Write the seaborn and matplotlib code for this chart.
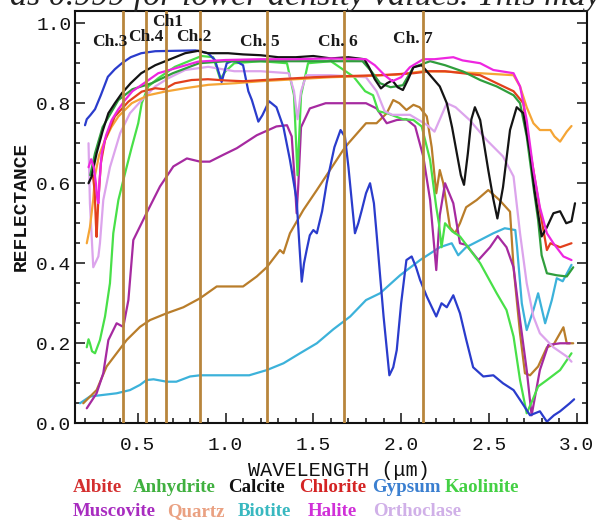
import numpy as np
import pandas as pd
import matplotlib
matplotlib.use("Agg")
import matplotlib.pyplot as plt
from matplotlib.ticker import MultipleLocator
import seaborn as sns

# ---------------- data ----------------
albite_wl = [0.245, 0.255, 0.262, 0.266, 0.275, 0.29, 0.314, 0.37, 0.447, 0.523, 0.6, 0.65, 0.712, 0.807, 0.9, 0.997, 1.1, 1.3, 1.5, 1.7, 1.88, 2.07, 2.165, 2.25, 2.35, 2.45, 2.544, 2.64, 2.696, 2.72, 2.753, 2.79, 2.83, 2.85, 2.905, 2.97]
albite_r = [0.62, 0.58, 0.50, 0.466, 0.55, 0.65, 0.708, 0.767, 0.804, 0.829, 0.8375, 0.835, 0.85, 0.858, 0.86, 0.857, 0.855, 0.86, 0.865, 0.868, 0.87, 0.875, 0.88, 0.88, 0.875, 0.87, 0.85, 0.83, 0.80, 0.717, 0.633, 0.533, 0.433, 0.45, 0.44, 0.45]

anhydrite_wl = [0.23, 0.257, 0.30, 0.39, 0.47, 0.58, 0.7, 0.85, 1.0, 1.2, 1.4, 1.6, 1.78, 1.83, 1.88, 1.94, 2.01, 2.07, 2.165, 2.25, 2.354, 2.45, 2.544, 2.64, 2.677, 2.715, 2.753, 2.78, 2.80, 2.83, 2.886, 2.943, 2.98]
anhydrite_r = [0.62, 0.675, 0.74, 0.808, 0.835, 0.85, 0.875, 0.90, 0.905, 0.905, 0.905, 0.905, 0.905, 0.88, 0.85, 0.84, 0.845, 0.89, 0.905, 0.895, 0.879, 0.858, 0.842, 0.82, 0.80, 0.717, 0.592, 0.508, 0.42, 0.375, 0.37, 0.367, 0.39]

calcite_wl = [0.22, 0.238, 0.266, 0.30, 0.333, 0.37, 0.41, 0.46, 0.52, 0.6, 0.674, 0.77, 0.845, 0.9, 1.015, 1.1, 1.2, 1.3, 1.4, 1.5, 1.6, 1.7, 1.79, 1.817, 1.85, 1.885, 1.92, 1.95, 1.98, 2.01, 2.04, 2.07, 2.117, 2.165, 2.22, 2.26, 2.29, 2.317, 2.34, 2.358, 2.38, 2.40, 2.42, 2.45, 2.496, 2.525, 2.548, 2.58, 2.62, 2.658, 2.696, 2.734, 2.76, 2.80, 2.83, 2.867, 2.905, 2.94, 2.97, 2.99]
calcite_r = [0.60, 0.617, 0.675, 0.73, 0.775, 0.80, 0.825, 0.85, 0.875, 0.895, 0.908, 0.925, 0.931, 0.925, 0.925, 0.922, 0.92, 0.915, 0.915, 0.918, 0.912, 0.915, 0.91, 0.89, 0.86, 0.837, 0.85, 0.857, 0.84, 0.833, 0.86, 0.89, 0.895, 0.87, 0.842, 0.80, 0.74, 0.675, 0.62, 0.596, 0.675, 0.76, 0.79, 0.758, 0.633, 0.56, 0.512, 0.59, 0.733, 0.79, 0.775, 0.675, 0.58, 0.467, 0.49, 0.525, 0.53, 0.50, 0.505, 0.55]

chlorite_wl = [0.19, 0.266, 0.323, 0.38, 0.437, 0.513, 0.57, 0.665, 0.76, 0.855, 0.95, 1.044, 1.10, 1.178, 1.235, 1.31, 1.33, 1.367, 1.443, 1.52, 1.595, 1.67, 1.70, 1.80, 1.86, 1.918, 1.955, 1.99, 2.03, 2.07, 2.105, 2.146, 2.174, 2.20, 2.22, 2.24, 2.278, 2.307, 2.335, 2.37, 2.43, 2.496, 2.56, 2.62, 2.64, 2.677, 2.705, 2.734, 2.78, 2.83, 2.867, 2.924, 2.943, 2.98]
chlorite_r = [0.05, 0.083, 0.142, 0.175, 0.208, 0.241, 0.258, 0.275, 0.29, 0.3125, 0.342, 0.342, 0.342, 0.367, 0.39, 0.433, 0.425, 0.475, 0.533, 0.583, 0.633, 0.683, 0.70, 0.75, 0.75, 0.775, 0.808, 0.80, 0.783, 0.796, 0.79, 0.767, 0.69, 0.575, 0.633, 0.60, 0.49, 0.475, 0.50, 0.54, 0.558, 0.583, 0.558, 0.529, 0.39, 0.225, 0.125, 0.12, 0.142, 0.19, 0.196, 0.24, 0.20, 0.20]

gypsum_wl = [0.20, 0.21, 0.23, 0.257, 0.29, 0.33, 0.37, 0.41, 0.46, 0.52, 0.6, 0.71, 0.83, 0.9, 0.94, 0.978, 1.007, 1.035, 1.06, 1.1, 1.13, 1.15, 1.187, 1.21, 1.248, 1.29, 1.33, 1.367, 1.405, 1.42, 1.434, 1.447, 1.462, 1.48, 1.50, 1.52, 1.55, 1.576, 1.62, 1.655, 1.68, 1.70, 1.72, 1.737, 1.756, 1.776, 1.80, 1.823, 1.845, 1.86, 1.88, 1.90, 1.933, 1.955, 1.975, 2.0, 2.03, 2.06, 2.085, 2.108, 2.146, 2.175, 2.20, 2.23, 2.26, 2.297, 2.335, 2.37, 2.41, 2.468, 2.525, 2.58, 2.64, 2.69, 2.734, 2.79, 2.83, 2.87, 2.905, 2.96, 2.985]
gypsum_r = [0.745, 0.76, 0.77, 0.785, 0.82, 0.866, 0.885, 0.90, 0.915, 0.925, 0.93, 0.931, 0.932, 0.925, 0.908, 0.853, 0.90, 0.905, 0.905, 0.895, 0.83, 0.808, 0.754, 0.77, 0.805, 0.79, 0.74, 0.658, 0.558, 0.45, 0.354, 0.40, 0.433, 0.47, 0.483, 0.475, 0.53, 0.60, 0.69, 0.733, 0.716, 0.64, 0.55, 0.475, 0.50, 0.533, 0.575, 0.60, 0.55, 0.475, 0.37, 0.267, 0.12, 0.14, 0.183, 0.30, 0.408, 0.417, 0.39, 0.358, 0.317, 0.29, 0.267, 0.30, 0.29, 0.32, 0.275, 0.21, 0.14, 0.117, 0.12, 0.10, 0.083, 0.05, 0.02, 0.03, 0.004, 0.02, 0.03, 0.05, 0.06]

kaolinite_wl = [0.21, 0.22, 0.228, 0.24, 0.257, 0.285, 0.314, 0.342, 0.361, 0.39, 0.428, 0.466, 0.503, 0.523, 0.56, 0.617, 0.712, 0.807, 0.864, 0.93, 0.97, 1.0, 1.05, 1.2, 1.35, 1.39, 1.41, 1.43, 1.47, 1.6, 1.73, 1.795, 1.84, 1.87, 1.92, 2.01, 2.07, 2.117, 2.165, 2.20, 2.215, 2.23, 2.25, 2.29, 2.335, 2.45, 2.544, 2.60, 2.64, 2.677, 2.715, 2.75, 2.78, 2.83, 2.905, 2.97]
kaolinite_r = [0.19, 0.21, 0.20, 0.18, 0.175, 0.208, 0.267, 0.35, 0.475, 0.558, 0.625, 0.69, 0.75, 0.80, 0.842, 0.8625, 0.891, 0.908, 0.918, 0.915, 0.86, 0.88, 0.90, 0.905, 0.90, 0.82, 0.62, 0.82, 0.90, 0.905, 0.866, 0.83, 0.82, 0.78, 0.775, 0.76, 0.758, 0.742, 0.658, 0.54, 0.50, 0.44, 0.50, 0.48, 0.467, 0.40, 0.325, 0.283, 0.217, 0.108, 0.025, 0.06, 0.092, 0.108, 0.133, 0.175]

muscovite_wl = [0.21, 0.266, 0.304, 0.333, 0.38, 0.418, 0.447, 0.475, 0.55, 0.627, 0.703, 0.78, 0.855, 0.91, 0.987, 1.064, 1.178, 1.29, 1.35, 1.377, 1.395, 1.405, 1.415, 1.43, 1.48, 1.57, 1.66, 1.80, 1.86, 1.918, 1.975, 2.03, 2.08, 2.126, 2.165, 2.20, 2.22, 2.25, 2.297, 2.335, 2.37, 2.44, 2.506, 2.55, 2.60, 2.64, 2.677, 2.715, 2.743, 2.79, 2.838, 2.905, 2.96]
muscovite_r = [0.0375, 0.075, 0.125, 0.208, 0.25, 0.241, 0.308, 0.458, 0.525, 0.592, 0.642, 0.662, 0.654, 0.654, 0.671, 0.6875, 0.72, 0.742, 0.745, 0.717, 0.60, 0.525, 0.60, 0.74, 0.787, 0.80, 0.80, 0.80, 0.787, 0.75, 0.758, 0.76, 0.742, 0.667, 0.558, 0.383, 0.52, 0.60, 0.55, 0.45, 0.446, 0.408, 0.44, 0.468, 0.44, 0.39, 0.258, 0.133, 0.02, 0.133, 0.196, 0.20, 0.20]

quartz_wl = [0.21, 0.228, 0.247, 0.257, 0.28, 0.314, 0.35, 0.39, 0.466, 0.56, 0.655, 0.77, 0.902, 1.054, 1.2, 1.4, 1.6, 1.8, 1.88, 1.97, 2.126, 2.25, 2.45, 2.64, 2.677, 2.715, 2.753, 2.79, 2.85, 2.873, 2.905, 2.943, 2.97]
quartz_r = [0.45, 0.49, 0.56, 0.62, 0.67, 0.708, 0.74, 0.767, 0.80, 0.82, 0.829, 0.8375, 0.846, 0.85, 0.855, 0.86, 0.865, 0.868, 0.87, 0.871, 0.88, 0.879, 0.875, 0.87, 0.842, 0.79, 0.75, 0.733, 0.733, 0.717, 0.704, 0.729, 0.743]

biotite_wl = [0.171, 0.228, 0.285, 0.38, 0.456, 0.513, 0.55, 0.59, 0.665, 0.72, 0.798, 0.855, 0.95, 1.04, 1.135, 1.235, 1.33, 1.424, 1.52, 1.614, 1.71, 1.80, 1.88, 1.994, 2.108, 2.22, 2.288, 2.325, 2.37, 2.45, 2.525, 2.59, 2.65, 2.66, 2.687, 2.715, 2.753, 2.78, 2.82, 2.858, 2.886, 2.92, 2.97]
biotite_r = [0.05, 0.067, 0.07, 0.075, 0.083, 0.096, 0.108, 0.11, 0.104, 0.104, 0.117, 0.12, 0.12, 0.12, 0.12, 0.133, 0.15, 0.175, 0.20, 0.235, 0.267, 0.308, 0.325, 0.37, 0.408, 0.44, 0.45, 0.42, 0.44, 0.458, 0.475, 0.4875, 0.483, 0.44, 0.30, 0.233, 0.283, 0.325, 0.25, 0.308, 0.3625, 0.355, 0.396]

halite_wl = [0.22, 0.235, 0.25, 0.262, 0.27, 0.276, 0.282, 0.295, 0.32, 0.352, 0.39, 0.428, 0.47, 0.523, 0.617, 0.712, 0.845, 1.0, 1.2, 1.4, 1.6, 1.8, 1.85, 1.906, 1.95, 2.0, 2.05, 2.126, 2.19, 2.297, 2.35, 2.45, 2.525, 2.64, 2.677, 2.715, 2.753, 2.79, 2.83, 2.867, 2.924, 2.97]
halite_r = [0.64, 0.66, 0.64, 0.60, 0.56, 0.55, 0.60, 0.675, 0.72, 0.758, 0.785, 0.808, 0.83, 0.846, 0.875, 0.887, 0.904, 0.908, 0.91, 0.91, 0.912, 0.91, 0.895, 0.87, 0.855, 0.865, 0.89, 0.91, 0.91, 0.915, 0.907, 0.90, 0.883, 0.875, 0.842, 0.758, 0.633, 0.54, 0.475, 0.45, 0.417, 0.408]

orthoclase_wl = [0.22, 0.228, 0.247, 0.276, 0.285, 0.304, 0.342, 0.40, 0.456, 0.523, 0.6, 0.674, 0.77, 0.902, 1.05, 1.2, 1.36, 1.39, 1.41, 1.43, 1.46, 1.6, 1.8, 1.86, 1.906, 1.95, 2.05, 2.146, 2.19, 2.26, 2.31, 2.39, 2.487, 2.58, 2.64, 2.677, 2.715, 2.753, 2.79, 2.867, 2.943, 2.97]
orthoclase_r = [0.70, 0.55, 0.39, 0.417, 0.45, 0.558, 0.64, 0.725, 0.775, 0.808, 0.842, 0.8625, 0.883, 0.891, 0.88, 0.88, 0.875, 0.83, 0.76, 0.83, 0.87, 0.87, 0.865, 0.83, 0.78, 0.771, 0.771, 0.746, 0.729, 0.80, 0.79, 0.758, 0.708, 0.667, 0.617, 0.475, 0.35, 0.267, 0.225, 0.19, 0.167, 0.154]

minerals = ["Albite", "Anhydrite", "Calcite", "Chlorite", "Gypsum", "Kaolinite",
            "Muscovite", "Quartz", "Biotite", "Halite", "Orthoclase"]
series = {
    "Albite": (albite_wl, albite_r),
    "Anhydrite": (anhydrite_wl, anhydrite_r),
    "Calcite": (calcite_wl, calcite_r),
    "Chlorite": (chlorite_wl, chlorite_r),
    "Gypsum": (gypsum_wl, gypsum_r),
    "Kaolinite": (kaolinite_wl, kaolinite_r),
    "Muscovite": (muscovite_wl, muscovite_r),
    "Quartz": (quartz_wl, quartz_r),
    "Biotite": (biotite_wl, biotite_r),
    "Halite": (halite_wl, halite_r),
    "Orthoclase": (orthoclase_wl, orthoclase_r),
}

channel_names = ["Ch.3", "Ch.4", "Ch1", "Ch.2", "Ch. 5", "Ch. 6", "Ch. 7"]
channel_wl = [0.415, 0.55, 0.66, 0.855, 1.235, 1.677, 2.123]

x_tick_labels = ["0.5", "1.0", "1.5", "2.0", "2.5", "3.0"]
y_tick_labels = ["0.0", "0.2", "0.4", "0.6", "0.8", "1.0"]

# ---------------- styles ----------------
line_colors = {
    "Albite": "#e2401c", "Anhydrite": "#2f9e3c", "Calcite": "#141414",
    "Chlorite": "#b97d2a", "Gypsum": "#2a3ccc", "Kaolinite": "#48e048",
    "Muscovite": "#a62aa0", "Quartz": "#f5a535", "Biotite": "#3cb2da",
    "Halite": "#ee26e0", "Orthoclase": "#dca4ec",
}
legend_colors = {
    "Albite": "#d42f2f", "Anhydrite": "#40b040", "Calcite": "#111111",
    "Chlorite": "#d42424", "Gypsum": "#3a7fd0", "Kaolinite": "#44d044",
    "Muscovite": "#a82cc0", "Quartz": "#eaa182", "Biotite": "#38b8c0",
    "Halite": "#d030d8", "Orthoclase": "#d0b0e8",
}
draw_order = ["Biotite", "Chlorite", "Muscovite", "Kaolinite", "Orthoclase", "Gypsum",
              "Quartz", "Albite", "Anhydrite", "Calcite", "Halite"]

sns.set_theme(style="white")
plt.rcParams["font.family"] = ["Liberation Mono", "DejaVu Sans Mono", "DejaVu Sans"]

rows = []
for name in draw_order:
    wl, r = series[name]
    for a, b in zip(wl, r):
        rows.append((name, a, b))
df = pd.DataFrame(rows, columns=["mineral", "wl", "refl"])

W, H = 602, 522
fig = plt.figure(figsize=(W / 100, H / 100), dpi=100)
ax_l, ax_r, ax_t, ax_b = 75, 587.3, 10.8, 423.3
ax = fig.add_axes([ax_l / W, 1 - ax_b / H, (ax_r - ax_l) / W, (ax_b - ax_t) / H])

sns.lineplot(data=df, x="wl", y="refl", hue="mineral", hue_order=draw_order,
             palette=line_colors, estimator=None, sort=False, legend=False,
             linewidth=1.6, ax=ax)

for w in channel_wl:
    ax.axvline(w, color="#b8853c", linewidth=2.0, zorder=5)

ax.set_xlim(0.143, 3.06)
ax.set_ylim(0.0, 1.031)

ax.set_xticks([0.5, 1.0, 1.5, 2.0, 2.5, 3.0])
ax.set_xticklabels(x_tick_labels)
ax.set_yticks([0.0, 0.2, 0.4, 0.6, 0.8, 1.0])
ax.set_yticklabels(y_tick_labels)
ax.xaxis.set_minor_locator(MultipleLocator(0.1))
ax.yaxis.set_minor_locator(MultipleLocator(0.05))
ax.tick_params(axis="both", which="both", direction="in", colors="#111111",
               labelsize=14, width=1.1)
ax.tick_params(axis="both", which="major", length=7.5)
ax.tick_params(axis="both", which="minor", length=3.8)
ax.tick_params(axis="y", which="both", left=True, right=True, pad=2.5)
ax.tick_params(axis="x", which="both", bottom=True, top=False, pad=10)
for sp in ax.spines.values():
    sp.set_visible(True)
    sp.set_color("#111111")
    sp.set_linewidth(1.5)
ax.grid(False)

ax.set_xlabel("WAVELENGTH (μm)", fontsize=14.5, color="#111111")
ax.xaxis.set_label_coords((338.5 - ax_l) / (ax_r - ax_l), (ax_b - 470) / (ax_b - ax_t))
ax.xaxis.label.set_verticalalignment("center")
ax.set_ylabel("REFLECTANCE", fontsize=14, fontweight="bold", color="#111111")
ax.yaxis.set_label_coords((21.5 - ax_l) / (ax_r - ax_l), (ax_b - 206) / (ax_b - ax_t))
ax.yaxis.label.set_verticalalignment("center")

# channel labels (pixel centres)
label_px = [(110, 41.5), (146, 37), (167.5, 22), (193.5, 37), (259.5, 41.5), (337.5, 41.5), (413, 39)]
for name, (px, py) in zip(channel_names, label_px):
    fig.text(px / W, 1 - py / H, name, ha="center", va="center", fontsize=12.5,
             fontweight="bold", family=["Liberation Serif", "DejaVu Serif"],
             color="#1a1a1a", zorder=10)

# colored mineral names under the chart
legend_px = {
    "Albite": (73, 488), "Anhydrite": (133, 488), "Calcite": (228, 488),
    "Chlorite": (299, 488), "Gypsum": (372, 488), "Kaolinite": (445, 488),
    "Muscovite": (73, 512), "Quartz": (167, 512), "Biotite": (238, 512),
    "Halite": (308, 512), "Orthoclase": (373, 512),
}
for name in minerals:
    px, py = legend_px[name]
    fig.text(px / W, 1 - py / H, name, ha="left", va="center", fontsize=13.6,
             fontweight="bold", family=["Liberation Serif", "DejaVu Serif"],
             color=legend_colors[name])

# clipped line of document text at the very top
fig.text(10 / W, 1 - 5.5 / H, "as 0.999 for lower density values. This may",
         ha="left", va="baseline", fontsize=24.5, style="italic",
         family=["Liberation Serif", "DejaVu Serif"], color="#222222")

fig.savefig("out.png", dpi=100)
